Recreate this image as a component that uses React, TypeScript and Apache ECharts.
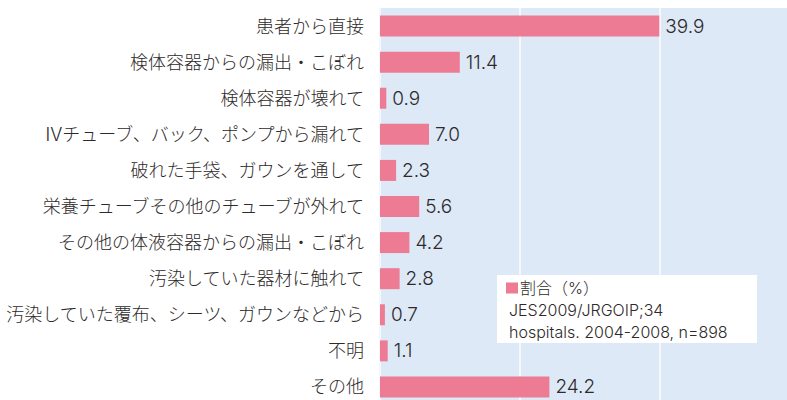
import React, { useEffect, useRef } from "react";
import * as echarts from "echarts";

const categories = [
  "患者から直接",
  "検体容器からの漏出・こぼれ",
  "検体容器が壊れて",
  "IVチューブ、バック、ポンプから漏れて",
  "破れた手袋、ガウンを通して",
  "栄養チューブその他のチューブが外れて",
  "その他の体液容器からの漏出・こぼれ",
  "汚染していた器材に触れて",
  "汚染していた覆布、シーツ、ガウンなどから",
  "不明",
  "その他",
];
const values = [39.9, 11.4, 0.9, 7.0, 2.3, 5.6, 4.2, 2.8, 0.7, 1.1, 24.2];
const seriesName = "割合（%）";
const noteLines = ["JES2009/JRGOIP;34", "hospitals. 2004-2008, n=898"];

const FONT = 'Inter, "Noto Sans CJK JP", sans-serif';
const TEXT = "#2e2a2a";
const W = 300;

export default function App() {
  const ref = useRef<HTMLDivElement>(null);
  useEffect(() => {
    if (!ref.current) return;
    const chart = echarts.init(ref.current, undefined, { renderer: "svg" });
    chart.setOption({
      animation: false,
      textStyle: { fontFamily: FONT, color: TEXT, fontWeight: W },
      grid: {
        left: 380,
        top: 8,
        right: -13,
        bottom: -5,
        show: true,
        backgroundColor: "#dde9f7",
        borderWidth: 0,
        outerBoundsMode: "none",
      },
      xAxis: {
        type: "value",
        min: 0,
        max: 60,
        interval: 20,
        axisLabel: { show: false },
        axisLine: { show: false },
        axisTick: { show: false },
        splitLine: { show: true, lineStyle: { color: "#f4f8fd", width: 2 } },
      },
      yAxis: {
        type: "category",
        data: categories,
        inverse: true,
        axisLine: { show: false },
        axisTick: { show: false },
        axisLabel: { fontSize: 18, color: TEXT, fontFamily: FONT, fontWeight: W, margin: 16 },
      },
      legend: {
        data: [seriesName],
        left: 506,
        top: 280,
        padding: 0,
        itemWidth: 12,
        itemHeight: 11,
        itemGap: 0,
        icon: "rect",
        z: 10,
        textStyle: { fontSize: 16, color: TEXT, fontFamily: FONT, fontWeight: W, padding: [0, 0, 0, -3] },
      },
      graphic: [
        {
          type: "rect",
          z: 5,
          shape: { x: 497, y: 275, width: 260, height: 68 },
          style: { fill: "#ffffff" },
        },
        ...noteLines.map((t, i) => ({
          type: "text",
          z: 10,
          x: 509,
          y: 309.5 + i * 22,
          style: {
            text: t,
            fill: TEXT,
            font: `${W} 16px ${FONT}`,
            textVerticalAlign: "middle",
          },
        })),
      ],
      series: [
        {
          name: seriesName,
          type: "bar",
          data: values,
          barWidth: 21,
          itemStyle: { color: "#ec7b93" },
          label: {
            show: true,
            position: "right",
            distance: 6,
            fontSize: 19,
            color: TEXT,
            fontFamily: FONT,
            fontWeight: W,
            formatter: (p: any) => Number(p.value).toFixed(1),
          },
        },
      ],
    });
    return () => chart.dispose();
  }, []);
  return (
    <div
      ref={ref}
      style={{ position: "fixed", left: 0, top: 0, width: 787, height: 400, background: "#fff" }}
    />
  );
}
